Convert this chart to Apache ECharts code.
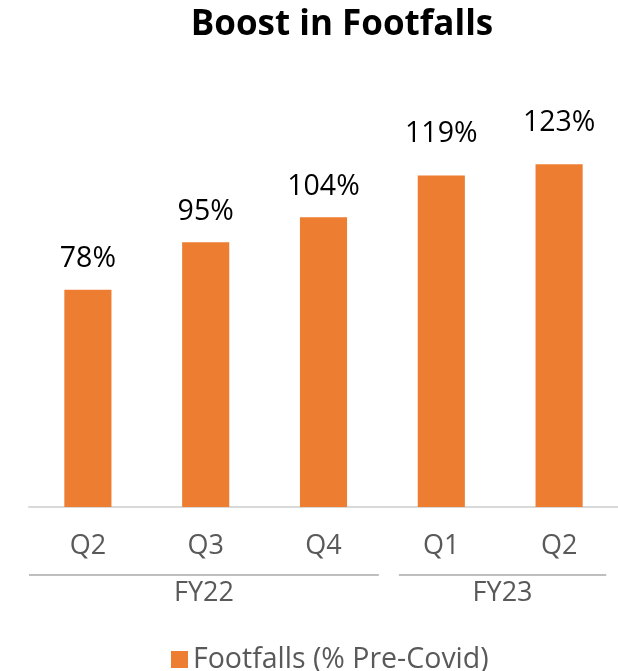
<!DOCTYPE html>
<html>
<head>
<meta charset="utf-8">
<script src="https://cdn.jsdelivr.net/npm/echarts@6/dist/echarts.min.js"></script>
<style>
  html, body { margin: 0; padding: 0; background: #fff; }
  #chart { width: 618px; height: 671px; }
</style>
</head>
<body>
<div id="chart"></div>
<script>
// quarters and footfall values (% of pre-covid)
var quarters = ['Q2', 'Q3', 'Q4', 'Q1', 'Q2'];
var footfalls = [78, 95, 104, 119, 123];
// fiscal year groups: name and span on the category axis (0..5)
var fyNames = ['FY22', 'FY23'];
var fyFrom = [0, 3.14];
var fyTo = [2.97, 4.9];
// gap between bar top and its label (the FY23 labels sit higher)
var labelGap = [16, 16, 16, 27, 27];

var FONT = '"Open Sans", sans-serif';

var myChart = echarts.init(document.getElementById('chart'), null, { renderer: 'canvas' });

var barData = footfalls.map(function (v, i) {
  return { value: v, label: { distance: labelGap[i] } };
});

var option = {
  animation: false,
  title: {
    text: 'Boost in Footfalls',
    left: 337,
    top: 3,
    textAlign: 'center',
    textStyle: { fontFamily: FONT, fontWeight: 'bold', fontSize: 35, color: '#000' }
  },
  legend: {
    data: ['Footfalls (% Pre-Covid)'],
    left: 166,
    top: 640,
    itemWidth: 17,
    itemHeight: 17,
    icon: 'rect',
    textStyle: { fontFamily: FONT, fontSize: 28.5, color: '#595959' }
  },
  grid: { left: 29, top: 117, width: 590, height: 390 },
  xAxis: [
    {
      type: 'category',
      data: quarters,
      axisTick: { show: false },
      axisLine: { lineStyle: { color: '#D9D9D9', width: 2 } },
      axisLabel: { margin: 26, fontFamily: FONT, fontSize: 27, color: '#595959' }
    },
    {
      type: 'value',
      min: 0,
      max: 5,
      show: false
    }
  ],
  yAxis: { type: 'value', min: 0, max: 140, show: false },
  series: [
    {
      name: 'Footfalls (% Pre-Covid)',
      type: 'bar',
      data: barData,
      barCategoryGap: '60%',
      itemStyle: { color: '#ED7D31' },
      label: {
        show: true,
        position: 'top',
        formatter: '{c}%',
        fontFamily: FONT,
        fontSize: 28.5,
        color: '#000'
      }
    }
  ]
};
myChart.setOption(option);

// group lines and year labels under the quarters
var lineY = 575;
var graphic = [];
fyNames.forEach(function (name, i) {
  var x1 = myChart.convertToPixel({ xAxisIndex: 1 }, fyFrom[i]);
  var x2 = myChart.convertToPixel({ xAxisIndex: 1 }, fyTo[i]);
  graphic.push({
    type: 'line',
    shape: { x1: x1, y1: lineY, x2: x2, y2: lineY },
    style: { stroke: '#BFBFBF', lineWidth: 2 }
  });
  graphic.push({
    type: 'text',
    x: (x1 + x2) / 2,
    y: 580,
    style: {
      text: name,
      fontFamily: FONT,
      fontSize: 27,
      fill: '#595959',
      textAlign: 'center',
      textVerticalAlign: 'top'
    }
  });
});
myChart.setOption({ graphic: graphic });
window.addEventListener('resize', myChart.resize);
</script>
</body>
</html>
